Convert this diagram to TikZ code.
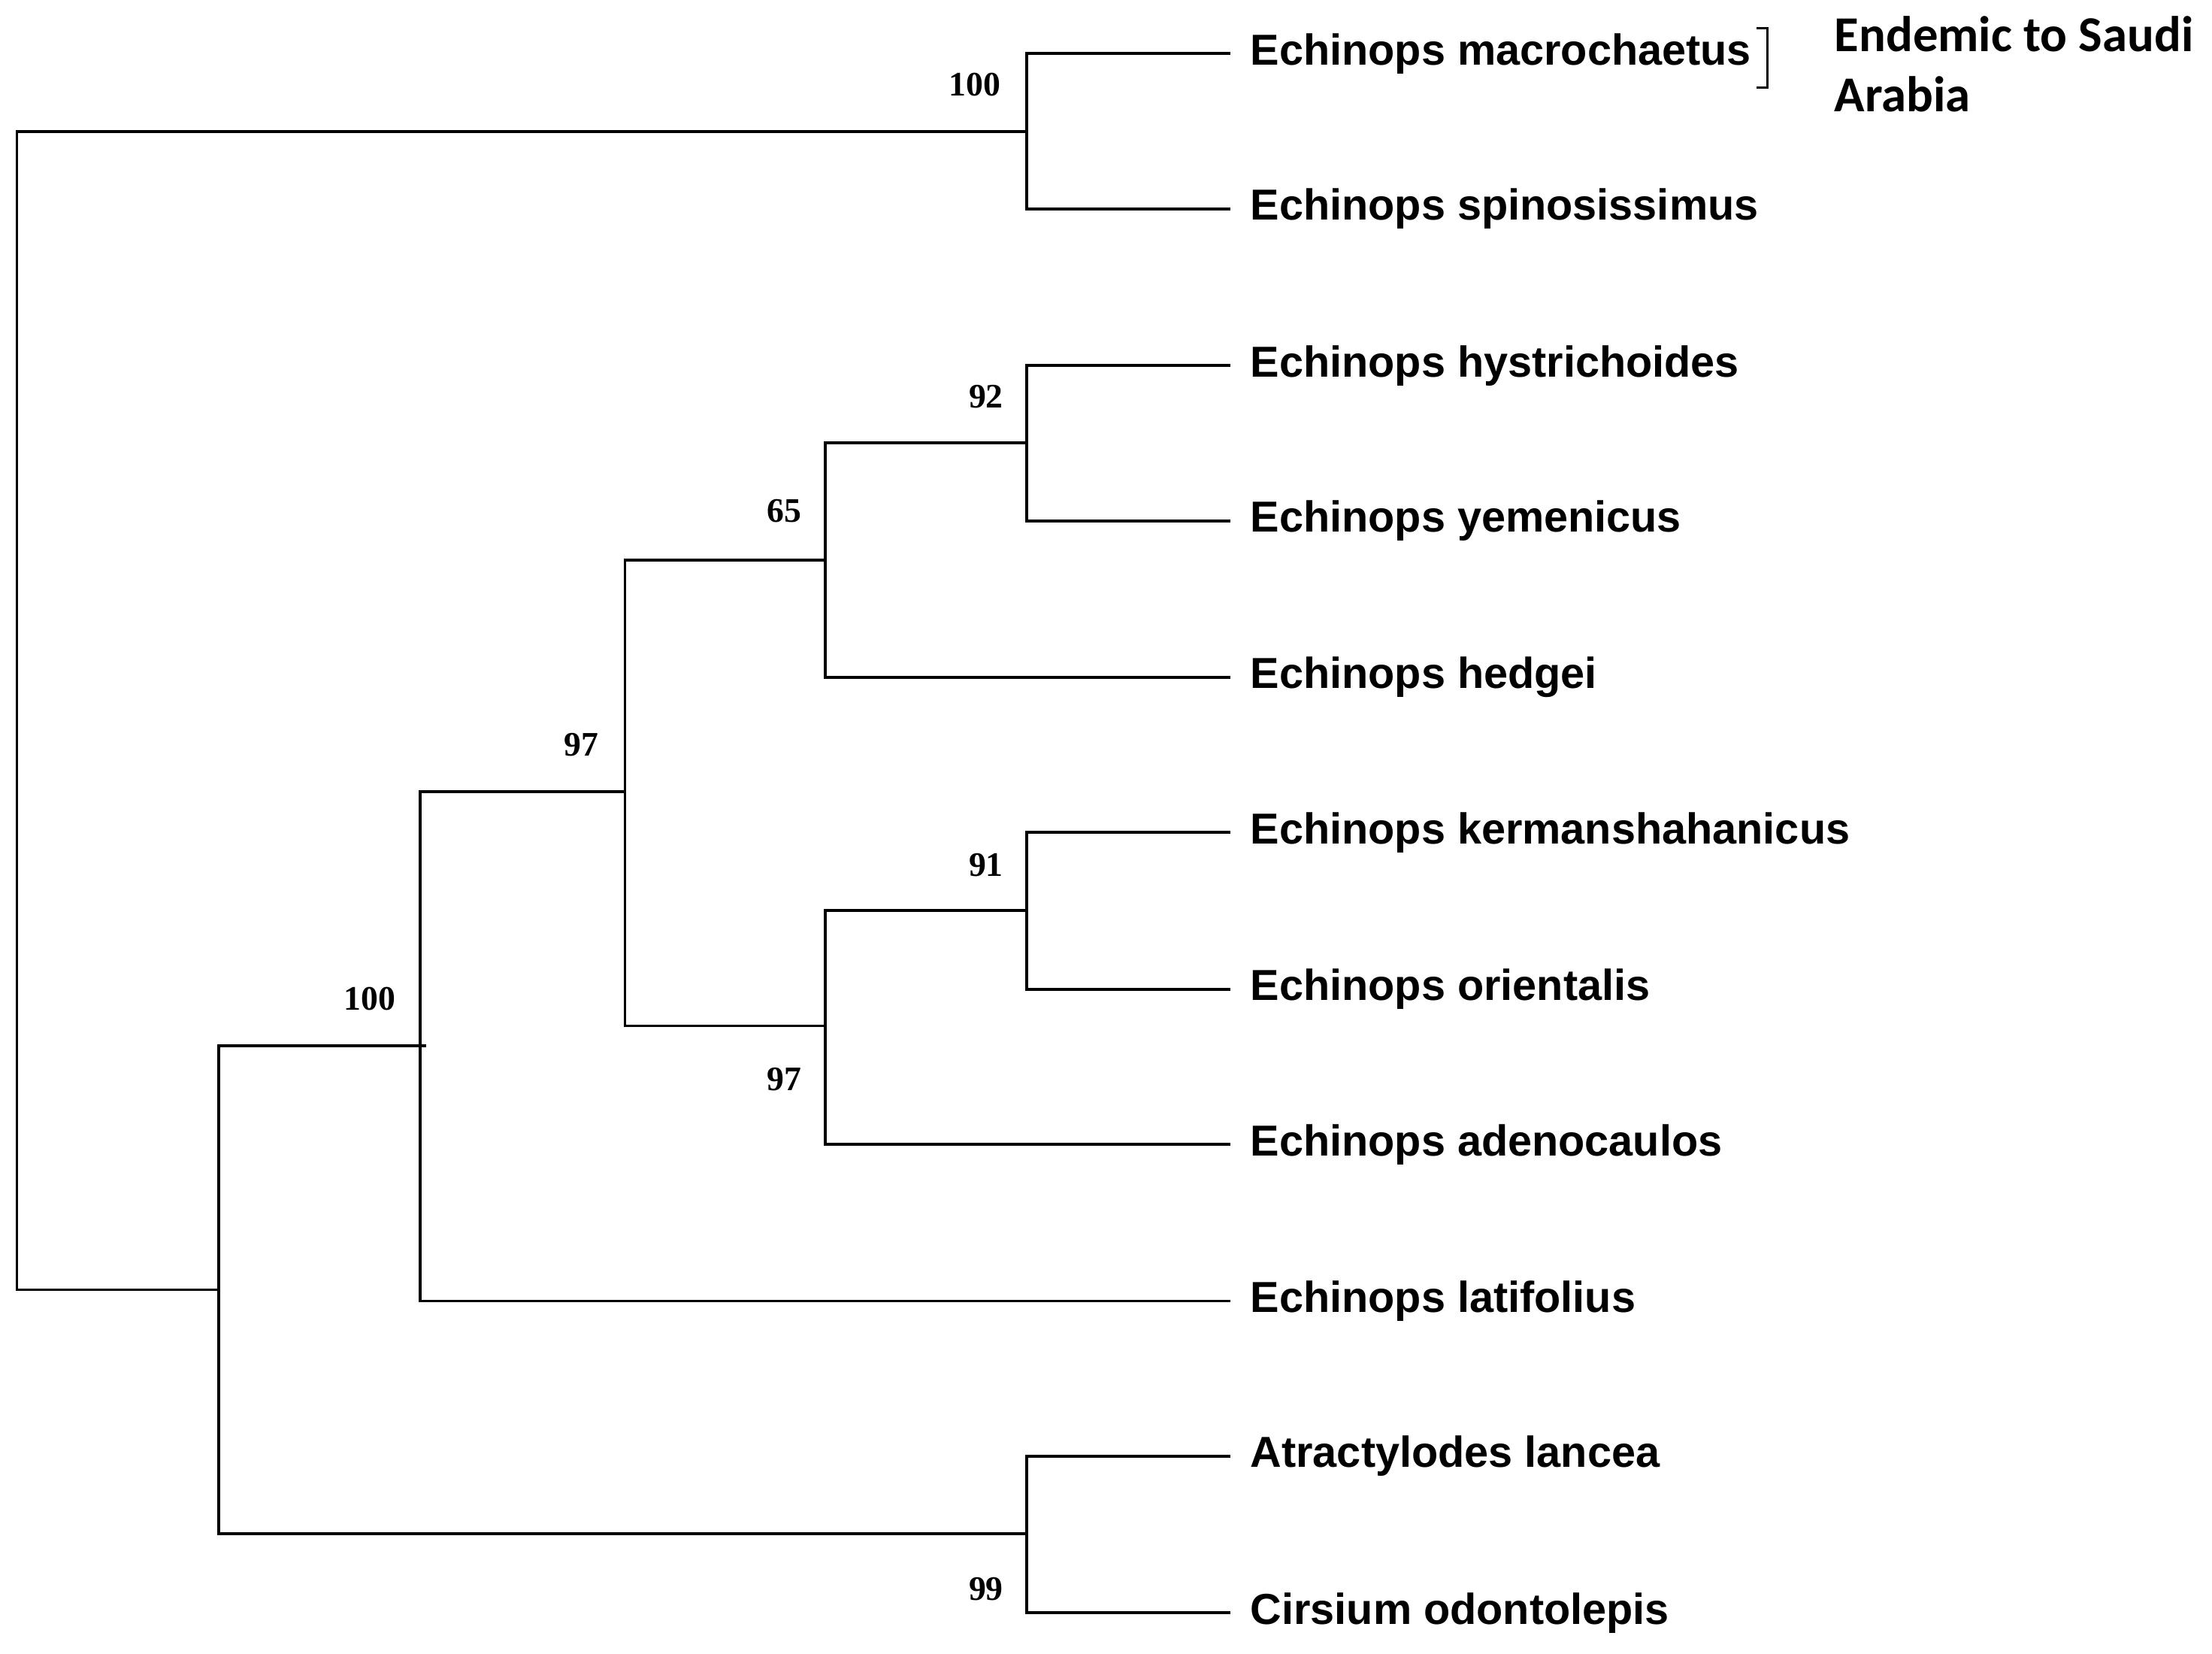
\documentclass[tikz,border=0pt]{standalone}
\usepackage{fontspec}
\setmainfont{Liberation Sans}
\newfontfamily\carl{Carlito}
\newfontfamily\bsf{Liberation Serif}
\begin{document}
\begin{tikzpicture}[x=0.01877cm,y=-0.01877cm,
  br/.style={line width=1.1pt},
  leaf/.style={anchor=west,inner sep=0pt,font=\bfseries\fontsize{16.4}{19}\selectfont},
  bs/.style={inner sep=0pt,font=\bsf\bfseries\fontsize{13}{15}\selectfont},
  en/.style={anchor=west,inner sep=0pt,font=\carl\bfseries\fontsize{19}{22}\selectfont}]
\useasboundingbox (0,0) rectangle (1568,1172);
% leaves
\foreach \n/\y/\t in {l1/38/Echinops macrochaetus,l2/148/Echinops spinosissimus,l3/259/Echinops hystrichoides,l4/369/Echinops yemenicus,l5/480/Echinops hedgei,l6/590/Echinops kermanshahanicus,l7/701/Echinops orientalis,l8/811/Echinops adenocaulos,l9/922/Echinops latifolius,l10/1032/Atractylodes lancea,l11/1143/Cirsium odontolepis}
 {\coordinate (\n) at (872,\y); \node[leaf] (t\n) at (886,\y) {\t};}
% internal nodes
\coordinate (nA) at (728,93);
\coordinate (n92) at (728,314);
\coordinate (n65) at (585,397);
\coordinate (n91) at (728,645);
\coordinate (n97b) at (585,727);
\coordinate (n97a) at (443,561);
\coordinate (n100) at (298,741);
\coordinate (nO) at (728,1087);
\coordinate (nI) at (155,914);
\coordinate (root) at (12,914);
\begin{scope}[br]
\draw (l1) -| (nA) |- (l2);
\draw (l3) -| (n92) |- (l4);
\draw (n92) -| (n65) |- (l5);
\draw (l6) -| (n91) |- (l7);
\draw (n91) -| (n97b) |- (l8);
\draw (n65) -| (n97a) |- (n97b);
\draw (n97a) -| (298,561) -- (298,922) -- (l9);
\draw (302,741) -| (nI) |- (nO);
\draw (l10) -| (nO) |- (l11);
\draw (nA) -| (root) |- (nI);
\end{scope}
% support values
\node[bs] (s1) at (691,60) {100};
\node[bs] (s2) at (699,281) {92};
\node[bs] (s3) at (556,362) {65};
\node[bs] (s4) at (412,528) {97};
\node[bs] (s5) at (262,708) {100};
\node[bs] (s6) at (699,613) {91};
\node[bs] (s7) at (556,765) {97};
\node[bs] (s8) at (699,1126) {99};
% bracket
\draw[line width=0.9pt] (1245,20) -- (1253,20) -- (1253,62) -- (1245,62);
\node[en] (e1) at (1300,24) {Endemic to Saudi};
\node[en] (e2) at (1300,67) {Arabia};
\end{tikzpicture}
\end{document}
